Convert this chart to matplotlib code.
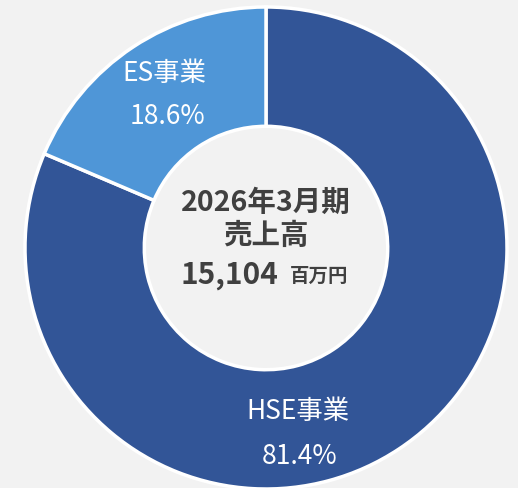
import matplotlib
matplotlib.use("Agg")
import matplotlib.pyplot as plt

plt.rcParams['font.family'] = ['Noto Sans CJK JP', 'DejaVu Sans']

# data
segments = ["HSE事業", "ES事業"]
shares = [81.4, 18.6]
colors = ["#325597", "#4f96d7"]
period = "2026年3月期"
metric = "売上高"
total = "15,104"
unit = "百万円"

BG = "#f2f2f2"
DARK = "#404040"

fig = plt.figure(figsize=(5.18, 4.88), dpi=100, facecolor=BG)
ax = fig.add_axes([0, 0, 1, 1])
ax.set_facecolor(BG)

wedges, _ = ax.pie(shares, colors=colors, startangle=90, counterclock=False,
                   radius=1.0,
                   wedgeprops=dict(width=0.495, edgecolor="white", linewidth=2.5))

# map pixels: center (266, 248), radius 241 px
r_px = 241.0
ax.set_xlim(-266 / r_px, (518 - 266) / r_px)
ax.set_ylim((248 - 488) / r_px, 248 / r_px)
ax.set_aspect("auto")
ax.axis("off")

# segment labels
ax.text(0.133, -0.678, segments[0], ha="center", va="center", fontsize=19, color="white")
ax.text(0.141, -0.866, f"{shares[0]:.1f}%", ha="center", va="center", fontsize=19, color="white")
ax.text(-0.423, 0.726, segments[1], ha="center", va="center", fontsize=19, color="white")
ax.text(-0.407, 0.544, f"{shares[1]:.1f}%", ha="center", va="center", fontsize=19, color="white")

# center text
ax.text(0.0, 0.187, period, ha="center", va="center", fontsize=20.5, fontweight="bold", color=DARK)
ax.text(0.0, 0.05, metric, ha="center", va="center", fontsize=20.5, fontweight="bold", color=DARK)
ax.text(-0.151, -0.112, total, ha="center", va="center", fontsize=21.5, fontweight="bold", color=DARK)
ax.text(0.22, -0.118, unit, ha="center", va="center", fontsize=14, fontweight="bold", color=DARK)

fig.savefig("out.png", dpi=100, facecolor=BG)
